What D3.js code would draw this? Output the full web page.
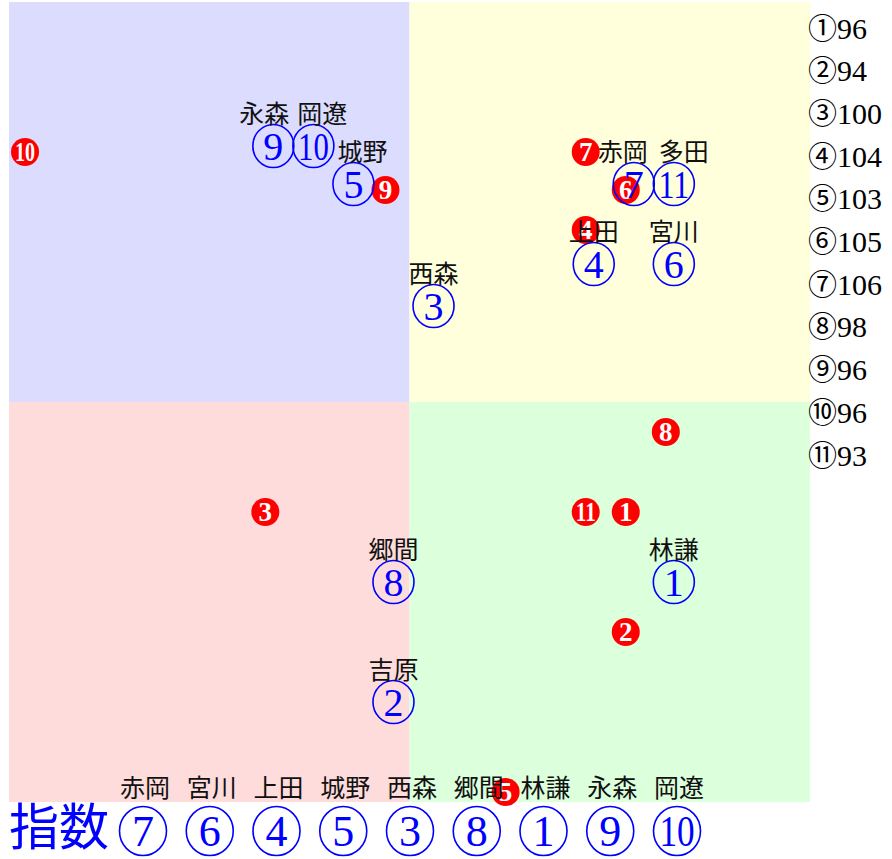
<!DOCTYPE html>
<html>
<head>
<meta charset="utf-8">
<script src="https://cdn.jsdelivr.net/npm/d3@7"></script>
<style>
  body { margin: 0; background: #fff; }
  svg { display: block; }
</style>
</head>
<body>
<script>
// people, numbered 1..11
var ids = [1, 2, 3, 4, 5, 6, 7, 8, 9, 10, 11];
var names = ["林謙", "吉原", "西森", "上田", "城野", "宮川", "赤岡", "郷間", "永森", "岡遼", "多田"];
var indexValues = [96, 94, 100, 104, 103, 105, 106, 98, 96, 96, 93];

// blue markers (current position), x and y on a -10..10 grid
var blueX = [6.6, -0.4, 0.6, 4.6, -1.4, 6.6, 5.6, -0.4, -3.4, -2.4, 6.6];
var blueY = [-4.5, -7.5, 2.4, 3.45, 5.45, 3.45, 5.45, -4.5, 6.4, 6.4, 5.45];

// red markers
var redX = [5.4, 5.4, -3.6, 4.4, 2.4, 5.4, 4.4, 6.4, -0.6, -9.6, 4.4];
var redY = [-2.75, -5.75, -2.75, 4.3, -9.75, 5.3, 6.25, -0.75, 5.3, 6.25, -2.75];

var circled = ["①", "②", "③", "④", "⑤", "⑥", "⑦", "⑧", "⑨", "⑩", "⑪"];

var width = 892, height = 859;
var numFont = "'Liberation Serif', 'DejaVu Serif', serif";
var cjkFont = "'Noto Sans CJK JP', 'Noto Sans', sans-serif";

// label nudges so neighbouring names don't collide
var labelShift = { 5: 9, 7: -11, 9: -9, 10: 9, 11: 10 };

var svg = d3.select("body").append("svg")
    .attr("width", width)
    .attr("height", height);

var x = d3.scaleLinear().domain([-10, 10]).range([9, 810]);
var y = d3.scaleLinear().domain([-10, 10]).range([802, 2]);

// quadrant backgrounds
var quads = [
  { x0: -10, x1: 0, y0: 0, y1: 10, c: "#dcdcff" },
  { x0: 0, x1: 10, y0: 0, y1: 10, c: "#ffffdc" },
  { x0: -10, x1: 0, y0: -10, y1: 0, c: "#ffdcdc" },
  { x0: 0, x1: 10, y0: -10, y1: 0, c: "#dcffdc" }
];
svg.selectAll(".quad")
  .data(quads)
  .enter().append("rect")
  .attr("class", "quad")
  .attr("x", function(d) { return x(d.x0); })
  .attr("y", function(d) { return y(d.y1); })
  .attr("width", function(d) { return x(d.x1) - x(d.x0); })
  .attr("height", function(d) { return y(d.y0) - y(d.y1); })
  .attr("fill", function(d) { return d.c; });

var people = ids.map(function(id, i) {
  return { id: id, name: names[i], value: indexValues[i],
           bx: blueX[i], by: blueY[i], rx: redX[i], ry: redY[i] };
});

// red filled markers first
var red = svg.selectAll(".red")
  .data(people)
  .enter().append("g")
  .attr("class", "red")
  .attr("transform", function(d) { return "translate(" + x(d.rx) + "," + y(d.ry) + ")"; });

red.append("circle")
  .attr("r", 14)
  .attr("fill", "#ff0000");

red.append("text")
  .attr("text-anchor", "middle")
  .attr("dy", "0.34em")
  .attr("fill", "#fff")
  .style("font-family", numFont)
  .style("font-weight", "bold")
  .style("font-size", "27px")
  .attr("textLength", function(d) { return d.id > 9 ? 20 : null; })
  .attr("lengthAdjust", "spacingAndGlyphs")
  .text(function(d) { return d.id; });

// blue circled numbers
function blueMark(sel, r, fs) {
  sel.append("ellipse")
    .attr("rx", r)
    .attr("ry", r + 1)
    .attr("fill", "none")
    .attr("stroke", "#0000ff")
    .attr("stroke-width", 1.6);
  sel.append("text")
    .attr("text-anchor", "middle")
    .attr("dy", "0.34em")
    .attr("fill", "#0000ff")
    .style("font-family", numFont)
    .style("font-size", fs + "px")
    .attr("textLength", function(d) { return d.id > 9 ? r * 1.5 : null; })
    .attr("lengthAdjust", "spacingAndGlyphs")
    .text(function(d) { return d.id; });
}

var blue = svg.selectAll(".blue")
  .data(people)
  .enter().append("g")
  .attr("class", "blue")
  .attr("transform", function(d) { return "translate(" + x(d.bx) + "," + y(d.by) + ")"; });
blueMark(blue, 20.5, 40);

// names above blue markers
svg.selectAll(".name")
  .data(people)
  .enter().append("text")
  .attr("class", "name")
  .attr("x", function(d) { return x(d.bx) + (labelShift[d.id] || 0); })
  .attr("y", function(d) { return y(d.by) - 23; })
  .attr("text-anchor", "middle")
  .attr("fill", "#111")
  .style("font-family", cjkFont)
  .style("font-size", "25px")
  .text(function(d) { return d.name; });

// index list on the right
var listY = d3.scalePoint().domain(ids).range([28, 455]);
var idx = svg.selectAll(".idx")
  .data(people)
  .enter().append("text")
  .attr("class", "idx")
  .attr("x", 808)
  .attr("y", function(d) { return listY(d.id); })
  .attr("dy", "0.35em")
  .attr("fill", "#000")
  .style("font-family", numFont)
  .style("font-size", "30px");
idx.append("tspan")
  .style("font-family", cjkFont)
  .style("font-size", "29px")
  .text(function(d) { return circled[d.id - 1]; });
idx.append("tspan")
  .text(function(d) { return d.value; });

// ranking row at the bottom: top nine by index
var ranked = people.slice().sort(function(a, b) {
  return d3.descending(a.value, b.value) || d3.ascending(a.id, b.id);
}).slice(0, 9);

var rankX = d3.scalePoint().domain(ranked.map(function(d) { return d.id; })).range([143, 677]);

svg.append("text")
  .attr("x", 9)
  .attr("y", 845)
  .attr("fill", "#0000ff")
  .style("font-family", cjkFont)
  .style("font-size", "50px")
  .text("指数");

svg.selectAll(".rankName")
  .data(ranked)
  .enter().append("text")
  .attr("class", "rankName")
  .attr("x", function(d) { return rankX(d.id) + 2; })
  .attr("y", 797)
  .attr("text-anchor", "middle")
  .attr("fill", "#111")
  .style("font-family", cjkFont)
  .style("font-size", "25px")
  .text(function(d) { return d.name; });

var rank = svg.selectAll(".rank")
  .data(ranked)
  .enter().append("g")
  .attr("class", "rank")
  .attr("transform", function(d) { return "translate(" + rankX(d.id) + ",831)"; });
blueMark(rank, 23.5, 44);
</script>
</body>
</html>
